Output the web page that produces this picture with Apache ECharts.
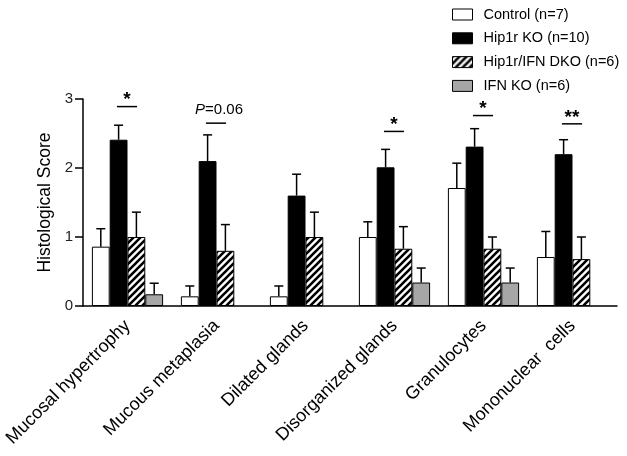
<!DOCTYPE html>
<html>
<head>
<meta charset="utf-8">
<script src="https://cdn.jsdelivr.net/npm/echarts@6/dist/echarts.min.js"></script>
<style>
html,body{margin:0;padding:0;background:#fff;}
#chart{width:627px;height:456px;}
</style>
</head>
<body>
<div id="chart"></div>
<script>
const categories = ['Mucosal hypertrophy','Mucous metaplasia','Dilated glands','Disorganized glands','Granulocytes','Mononuclear  cells'];
const seriesNames = ['Control (n=7)','Hip1r KO (n=10)','Hip1r/IFN DKO (n=6)','IFN KO (n=6)'];
const controlMean = [0.86, 0.14, 0.14, 1.00, 1.71, 0.71];
const controlErr  = [0.26, 0.15, 0.15, 0.22, 0.36, 0.37];
const hip1rMean   = [2.41, 2.10, 1.60, 2.01, 2.31, 2.20];
const hip1rErr    = [0.21, 0.38, 0.31, 0.26, 0.26, 0.21];
const dkoMean     = [1.00, 0.80, 1.00, 0.83, 0.83, 0.68];
const dkoErr      = [0.36, 0.38, 0.36, 0.32, 0.17, 0.32];
const ifnMean     = [0.17, 0, 0, 0.34, 0.34, 0];
const ifnErr      = [0.16, 0, 0, 0.21, 0.21, 0];
const yTicks = [0, 1, 2, 3];
const sigCategory = [0, 1, 3, 4, 5];
const sigLevel    = [2.89, 2.65, 2.53, 2.76, 2.64];
const sigText     = ['*', 'P=0.06', '*', '*', '**'];

const FONT = 'Liberation Sans, Arial, sans-serif';

function makeHatch() {
  const s = 7;
  const c = document.createElement('canvas');
  c.width = s; c.height = s;
  const ctx = c.getContext('2d');
  ctx.fillStyle = '#fff';
  ctx.fillRect(0, 0, s, s);
  ctx.strokeStyle = '#000';
  ctx.lineWidth = 2.6;
  ctx.beginPath();
  ctx.moveTo(-2, s + 2); ctx.lineTo(s + 2, -2);
  ctx.moveTo(-2, 2); ctx.lineTo(2, -2);
  ctx.moveTo(s - 2, s + 2); ctx.lineTo(s + 2, s - 2);
  ctx.stroke();
  return c;
}
const hatch = { image: makeHatch(), repeat: 'repeat' };

const means = [controlMean, hip1rMean, dkoMean, ifnMean];
const errs = [controlErr, hip1rErr, dkoErr, ifnErr];
const fills = ['#ffffff', '#000000', hatch, '#a6a6a6'];

const barSeries = means.map((m, g) => ({
  name: seriesNames[g],
  type: 'bar',
  barGap: '0%',
  barCategoryGap: '20%',
  data: m.map(v => v === 0 ? '-' : v),
  itemStyle: { color: fills[g], borderColor: '#000', borderWidth: 1 },
  z: 2
}));

const errData = [];
errs.forEach((e, g) => e.forEach((v, i) => { if (v > 0) errData.push([i, g, means[g][i], v]); }));

const errSeries = {
  type: 'custom',
  data: errData,
  encode: { x: 0, y: 2 },
  z: 3,
  silent: true,
  renderItem: function (params, api) {
    const cat = api.value(0), g = api.value(1), v = api.value(2), e = api.value(3);
    const band = api.size([1, 0])[0];
    const bw = band * 0.2;
    const base = api.coord([cat, v]);
    const top = api.coord([cat, v + e]);
    const x = base[0] + (g - 1.5) * bw;
    const cap = 4.5;
    const st = { stroke: '#000', lineWidth: 1.5 };
    return { type: 'group', children: [
      { type: 'line', shape: { x1: x, y1: base[1], x2: x, y2: top[1] }, style: st },
      { type: 'line', shape: { x1: x - cap, y1: top[1], x2: x + cap, y2: top[1] }, style: st }
    ]};
  }
};

const sigData = sigCategory.map((c, k) => [c, sigLevel[k], k]);
const sigSeries = {
  type: 'custom',
  data: sigData,
  encode: { x: 0, y: 1 },
  z: 4,
  silent: true,
  renderItem: function (params, api) {
    const cat = api.value(0), lv = api.value(1), k = api.value(2);
    const band = api.size([1, 0])[0];
    const p = api.coord([cat, lv]);
    const half = band * 0.113;
    const cx = p[0] - 0.5;
    const txt = sigText[k];
    const isP = txt.charAt(0) === 'P';
    const textEl = isP ? {
      type: 'text', x: cx + 3, y: p[1] - 6,
      style: { text: '{i|P}=0.06', rich: { i: { fontStyle: 'italic', fontSize: 15, fontFamily: FONT, fill: '#000' } },
               fontSize: 15, fontFamily: FONT, fill: '#000', align: 'center', verticalAlign: 'bottom' }
    } : {
      type: 'text', x: cx, y: p[1] + 3,
      style: { text: txt, fontSize: 19, fontWeight: 'bold', fontFamily: FONT, fill: '#000', align: 'center', verticalAlign: 'bottom' }
    };
    return { type: 'group', children: [
      { type: 'line', shape: { x1: cx - half, y1: p[1], x2: cx + half, y2: p[1] }, style: { stroke: '#000', lineWidth: 1.5 } },
      textEl
    ]};
  }
};

const chart = echarts.init(document.getElementById('chart'), null, { renderer: 'canvas' });
chart.setOption({
  animation: false,
  backgroundColor: '#fff',
  textStyle: { fontFamily: FONT },
  legend: {
    data: seriesNames,
    orient: 'vertical',
    left: 447,
    top: 2,
    icon: 'rect',
    itemWidth: 20,
    itemHeight: 11,
    itemGap: 8.8,
    itemStyle: { borderColor: '#000', borderWidth: 1 },
    textStyle: { fontSize: 14.5, color: '#000', fontFamily: FONT, padding: [0, 0, 0, 6] },
    selectedMode: false
  },
  grid: { left: 83, right: 10, top: 99, bottom: 150, containLabel: false },
  xAxis: {
    type: 'category',
    data: categories,
    axisLine: { lineStyle: { color: '#000', width: 1.5 } },
    axisTick: { alignWithLabel: true, length: 5, lineStyle: { color: '#000', width: 1.5 } },
    axisLabel: { rotate: 45, margin: 17, fontSize: 18, color: '#000', fontFamily: FONT, interval: 0 }
  },
  yAxis: {
    type: 'value',
    min: yTicks[0],
    max: yTicks[yTicks.length - 1],
    interval: 1,
    name: 'Histological Score',
    nameLocation: 'middle',
    nameGap: 28,
    nameTextStyle: { fontSize: 17.5, color: '#000', fontFamily: FONT },
    axisLine: { show: true, lineStyle: { color: '#000', width: 1.5 } },
    axisTick: { show: true, length: 8, lineStyle: { color: '#000', width: 1.5 } },
    axisLabel: { fontSize: 15, color: '#222', margin: 10, fontFamily: FONT },
    splitLine: { show: false }
  },
  series: barSeries.concat([errSeries, sigSeries])
});
</script>
</body>
</html>
